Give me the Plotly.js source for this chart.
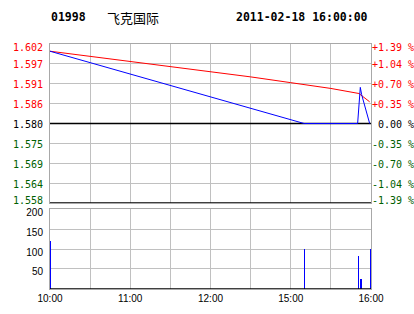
<!DOCTYPE html>
<html>
<head>
<meta charset="utf-8">
<script src="https://cdn.plot.ly/plotly-3.0.1.min.js"></script>
<style>
  html, body { margin: 0; padding: 0; background: #ffffff; }
  #chart { width: 414px; height: 314px; }
</style>
</head>
<body>
<div id="chart"></div>
<script>
// ---- data ----
const stockCode = '01998';
const stockName = '飞克国际';
const stampText = '2011-02-18 16:00:00';
const prevClose = 1.580;

const priceTimes = ['10:00', '15:10', '15:50', '15:52', '15:53', '15:59'];
const priceValues = [1.600, 1.580, 1.580, 1.590, 1.588, 1.580];

const avgTimes = ['10:00', '10:30', '11:00', '11:30', '12:00', '12:30', '15:00', '15:30', '15:51', '15:59'];
const avgValues = [1.600, 1.5986, 1.5972, 1.5958, 1.5944, 1.5929, 1.5913, 1.5897, 1.5883, 1.5860];

const volTimes = ['10:00', '15:10', '15:50', '15:52', '15:59'];
const volValues = [120, 100, 83, 25, 100];

const gridTimes = ['10:00', '10:30', '11:00', '11:30', '12:00', '12:30', '15:00', '15:30', '16:00'];
const timeTickText = ['10:00', '', '11:00', '', '12:00', '', '15:00', '', '16:00'];

const priceTickVals = [1.558, 1.5635, 1.569, 1.5745, 1.580, 1.5855, 1.591, 1.5965, 1.602];
const priceTickText = ['1.558', '1.564', '1.569', '1.575', '1.580', '1.586', '1.591', '1.597', '1.602'];
const pctTickText = ['-1.39 %', '-1.04 %', '-0.70 %', '-0.35 %', '\u00a00.00 %', '+0.35 %', '+0.70 %', '+1.04 %', '+1.39 %'];

const volTickVals = [50, 100, 150, 200];

// ---- helpers: trading-session time scale (HK: 10:00-12:30, 14:30-16:00) ----
function sessionMinute(t) {
  const p = t.split(':');
  const m = parseInt(p[0], 10) * 60 + parseInt(p[1], 10);
  if (m <= 12 * 60 + 30) return m - 600;
  return m - (14 * 60 + 30) + 150;
}
const RED = '#ff0000', GREEN = '#006000', BLACK = '#000000', BLUE = '#0000ff';
function colorFor(v) { return v > prevClose + 1e-9 ? RED : (v < prevClose - 1e-9 ? GREEN : BLACK); }

const pLow = priceTickVals[0], pHigh = priceTickVals[priceTickVals.length - 1];
const gridMin = gridTimes.map(sessionMinute);
const sessionEnds = [gridMin[0], gridMin[gridMin.length - 1]];

const traces = [
  {
    x: sessionEnds, y: [prevClose, prevClose], type: 'scatter', mode: 'lines',
    line: { color: BLACK, width: 1.6 }, xaxis: 'x', yaxis: 'y', hoverinfo: 'skip'
  },
  {
    x: avgTimes.map(sessionMinute), y: avgValues, type: 'scatter', mode: 'lines',
    line: { color: RED, width: 1 }, xaxis: 'x', yaxis: 'y', hoverinfo: 'skip'
  },
  {
    x: priceTimes.map(sessionMinute), y: priceValues, type: 'scatter', mode: 'lines',
    line: { color: BLUE, width: 1 }, xaxis: 'x', yaxis: 'y', hoverinfo: 'skip'
  },
  {
    x: volTimes.map(sessionMinute), y: volValues, type: 'bar',
    width: 1, offset: 0,
    marker: { color: BLUE, line: { width: 0 } }, xaxis: 'x2', yaxis: 'y2', hoverinfo: 'skip'
  }
];

const gridColor = '#c0c0c0';
const borderColor = '#a8a8a8';
const monoFont = { family: 'DejaVu Sans Mono', size: 10, color: BLACK };
const sansFont = { family: 'Liberation Sans, Arial', size: 10, color: BLACK };

// price / percent scale labels on both sides of the price panel (end labels nudged inward)
const scaleLabels = [];
priceTickVals.forEach((v, i) => {
  const ys = i === 0 ? 3 : (i === priceTickVals.length - 1 ? -3 : -1);
  const c = colorFor(v);
  scaleLabels.push({ xref: 'paper', yref: 'y', x: 0, y: v, xanchor: 'right', yanchor: 'middle',
    xshift: -5, yshift: ys, text: priceTickText[i], showarrow: false,
    font: { family: 'DejaVu Sans Mono', size: 10, color: c } });
  scaleLabels.push({ xref: 'paper', yref: 'y', x: 1, y: v, xanchor: 'left', yanchor: 'middle',
    xshift: -1, yshift: ys, text: pctTickText[i], showarrow: false,
    font: { family: 'DejaVu Sans Mono', size: 10, color: c } });
});

const layout = {
  width: 414, height: 314,
  margin: { l: 50, r: 43, t: 44, b: 25, pad: 0 },
  paper_bgcolor: '#ffffff', plot_bgcolor: '#ffffff',
  showlegend: false,
  bargap: 0,
  xaxis: {
    domain: [0, 1], range: [0, 240], anchor: 'y',
    tickvals: gridMin, showticklabels: false, ticks: '',
    showgrid: true, gridcolor: gridColor, gridwidth: 1, zeroline: false,
    showline: true, linecolor: borderColor, linewidth: 1, mirror: true
  },
  yaxis: {
    domain: [0.351, 1], range: [pLow, pHigh], anchor: 'x',
    tickvals: priceTickVals, showticklabels: false, ticks: '',
    showgrid: true, gridcolor: gridColor, gridwidth: 1, zeroline: false,
    showline: true, linecolor: borderColor, linewidth: 1, mirror: true
  },
  xaxis2: {
    domain: [0, 1], range: [0, 240], anchor: 'y2',
    tickvals: gridMin, ticktext: timeTickText,
    ticks: '', tickfont: sansFont,
    showgrid: true, gridcolor: gridColor, gridwidth: 1, zeroline: false,
    showline: true, linecolor: borderColor, linewidth: 1, mirror: true
  },
  yaxis2: {
    domain: [0, 0.3265], range: [0, 200], anchor: 'x2',
    tickvals: volTickVals,
    ticks: 'outside', ticklen: 4, tickcolor: 'rgba(0,0,0,0)',
    ticklabelshift: 3,
    tickfont: sansFont,
    showgrid: true, gridcolor: gridColor, gridwidth: 1, zeroline: false,
    showline: true, linecolor: borderColor, linewidth: 1, mirror: true
  },
  shapes: [
    { type: 'line', xref: 'x', yref: 'y', x0: 0, x1: 240, y0: pLow, y1: pLow,
      line: { color: BLACK, width: 1.5 }, layer: 'above' },
    { type: 'line', xref: 'x2', yref: 'y2', x0: 0, x1: 240, y0: 0, y1: 0,
      line: { color: BLACK, width: 1.5 }, layer: 'above' }
  ],
  annotations: scaleLabels.concat([
    { xref: 'paper', yref: 'paper', x: -0.003, y: 1.109, xanchor: 'left', yanchor: 'middle',
      text: '<b>' + stockCode + '</b>', showarrow: false,
      font: { family: 'DejaVu Sans Mono', size: 11.5, color: BLACK } },
    { xref: 'paper', yref: 'paper', x: 0.171, y: 1.109, xanchor: 'left', yanchor: 'middle',
      text: stockName, showarrow: false,
      font: { family: 'Noto Sans CJK SC', size: 13, color: BLACK } },
    { xref: 'paper', yref: 'paper', x: 0.997, y: 1.109, xanchor: 'right', yanchor: 'middle',
      text: '<b>' + stampText + '</b>', showarrow: false,
      font: { family: 'DejaVu Sans Mono', size: 11.5, color: BLACK } }
  ])
};

Plotly.newPlot('chart', traces, layout, { staticPlot: true, displayModeBar: false });
</script>
</body>
</html>
